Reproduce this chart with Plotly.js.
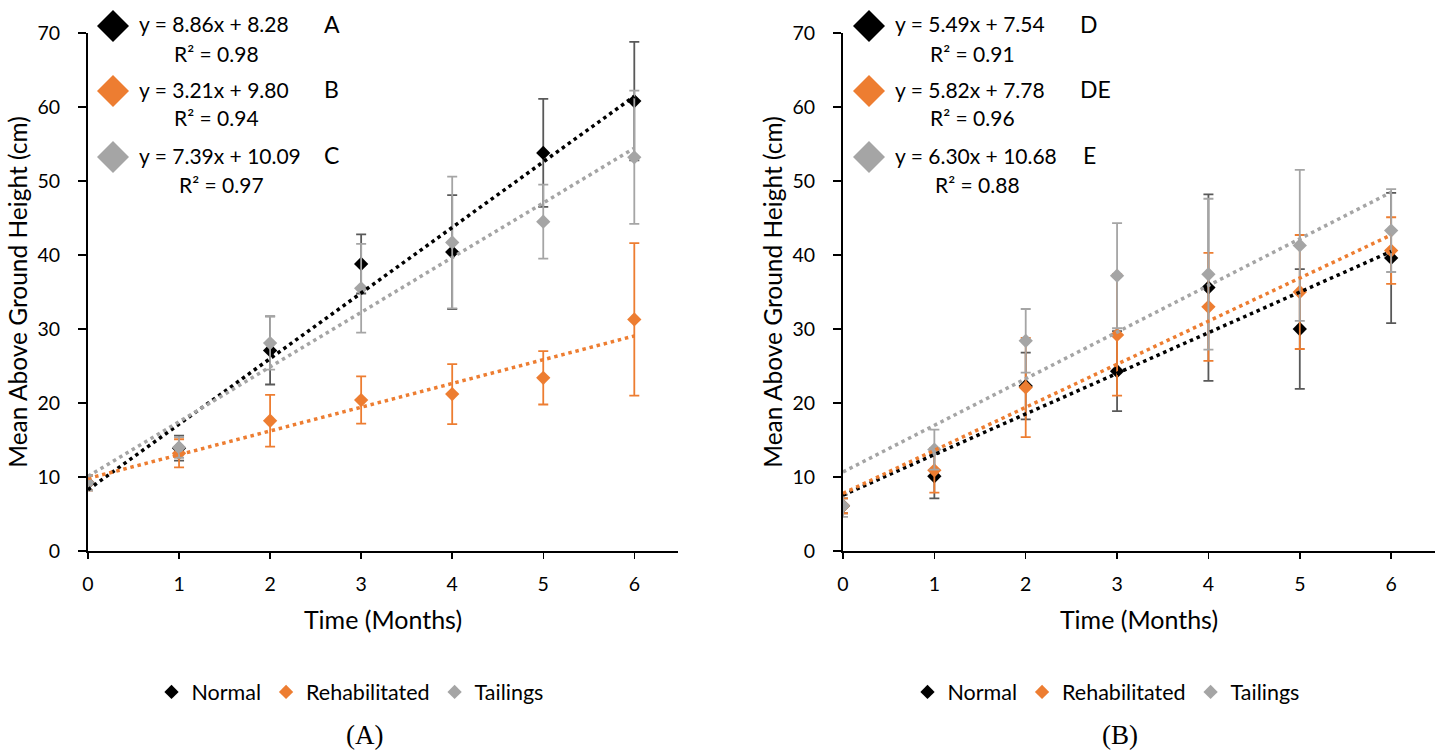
<!DOCTYPE html>
<html>
<head>
<meta charset="utf-8">
<script src="https://cdn.plot.ly/plotly-3.0.1.min.js"></script>
<style>html,body{margin:0;padding:0;background:#fff;}#chart{width:1442px;height:753px;}</style>
</head>
<body>
<div id="chart"></div>
<script>
// ---- data ----
const months = [0, 1, 2, 3, 4, 5, 6];
const seriesNames = ['Normal', 'Rehabilitated', 'Tailings'];

// Panel A
const A_normal = [9.2, 13.9, 27.1, 38.8, 40.4, 53.8, 60.8];
const A_normalErr = [1.0, 1.7, 4.6, 4.0, 7.7, 7.3, 8.0];
const A_rehab = [9.2, 13.2, 17.6, 20.4, 21.2, 23.4, 31.3];
const A_rehabErr = [1.0, 1.9, 3.5, 3.2, 4.05, 3.6, 10.3];
const A_tail = [9.2, 14.0, 28.1, 35.5, 41.7, 44.5, 53.2];
const A_tailErr = [1.0, 1.4, 3.6, 6.0, 8.9, 5.0, 9.0];
const A_slopes = [8.86, 3.21, 7.39];
const A_intercepts = [8.28, 9.80, 10.09];
const A_r2 = [0.98, 0.94, 0.97];
const A_letters = ['A', 'B', 'C'];

// Panel B
const B_normal = [6.1, 10.1, 22.3, 24.3, 35.6, 30.0, 39.6];
const B_normalErr = [1.0, 3.0, 4.5, 5.4, 12.6, 8.1, 8.8];
const B_rehab = [6.1, 10.9, 22.1, 29.2, 33.0, 35.0, 40.6];
const B_rehabErr = [1.0, 3.0, 6.7, 8.2, 7.3, 7.7, 4.5];
const B_tail = [6.1, 13.7, 28.4, 37.2, 37.4, 41.3, 43.3];
const B_tailErr = [1.5, 2.7, 4.3, 7.1, 10.2, 10.2, 5.6];
const B_slopes = [5.49, 5.82, 6.30];
const B_intercepts = [7.54, 7.78, 10.68];
const B_r2 = [0.91, 0.96, 0.88];
const B_letters = ['D', 'DE', 'E'];

const yTicks = [0, 10, 20, 30, 40, 50, 60, 70];
const panelLabels = ['(A)', '(B)'];

// ---- styles ----
const markerColors = ['#000000', '#ED7D31', '#A5A5A5'];
const errColors = ['#595959', '#ED7D31', '#A5A5A5'];
const FONT = 'Lato, "Open Sans", sans-serif';
const W = 1442, H = 753;
const px = x => x / W;
const py = y => 1 - y / H;

function panelTraces(vals, errs, slopes, intercepts, xa, ya, legendId) {
  const out = [];
  vals.forEach((v, i) => {
    out.push({
      type: 'scatter', mode: 'markers', x: months, y: v, name: seriesNames[i],
      xaxis: xa, yaxis: ya, legend: legendId,
      marker: {symbol: 'diamond', size: 11, color: markerColors[i]},
      error_y: {type: 'data', array: errs[i], visible: true, color: errColors[i], thickness: 1.8, width: 5},
      showlegend: true, hoverinfo: 'x+y'
    });
  });
  slopes.forEach((s, i) => {
    const tx = [months[0], months[months.length - 1]];
    out.push({
      type: 'scatter', mode: 'lines', x: tx, y: tx.map(t => intercepts[i] + s * t),
      xaxis: xa, yaxis: ya, showlegend: false, hoverinfo: 'skip',
      line: {color: markerColors[i], width: 3.5, dash: '3.5px,3.8px'}
    });
  });
  return out;
}

const traces = [].concat(
  panelTraces([A_normal, A_rehab, A_tail], [A_normalErr, A_rehabErr, A_tailErr], A_slopes, A_intercepts, 'x', 'y', 'legend'),
  panelTraces([B_normal, B_rehab, B_tail], [B_normalErr, B_rehabErr, B_tailErr], B_slopes, B_intercepts, 'x2', 'y2', 'legend2')
);

const yDom = [py(551), py(33)];
function xAxis(dom, anchor) {
  return {
    domain: dom, anchor: anchor, range: [0, 6.48], tickvals: months, ticktext: months.map(String),
    showline: true, linecolor: '#000', linewidth: 2, ticks: 'outside', ticklen: 6, tickwidth: 1.5, tickcolor: '#000',
    showgrid: false, zeroline: false, ticklabelstandoff: 9,
    tickfont: {family: FONT, size: 19.5, color: '#000'},
    title: {text: 'Time (Months)', font: {family: FONT, size: 25, color: '#000'}, standoff: 17}
  };
}
function yAxis(anchor) {
  return {
    domain: yDom, anchor: anchor, range: [0, 70], tickvals: yTicks,
    showline: true, linecolor: '#000', linewidth: 2, ticks: 'outside', ticklen: 8, tickwidth: 1.5, tickcolor: '#000',
    showgrid: false, zeroline: false, ticklabelstandoff: 14,
    tickfont: {family: FONT, size: 19.5, color: '#000'},
    title: {text: 'Mean Above Ground Height (cm)', font: {family: FONT, size: 24.5, color: '#000'}, standoff: 3}
  };
}

const annotations = [];
const shapes = [];
function eqBlock(dx, slopes, intercepts, r2, letters, letterX, r2X) {
  const ys = [26, 91, 157];
  ys.forEach((yc, i) => {
    shapes.push({
      type: 'path', xref: 'paper', yref: 'paper', xsizemode: 'pixel', ysizemode: 'pixel',
      xanchor: px(113 + dx), yanchor: py(yc), path: 'M0,16 L16,0 L0,-16 L-16,0 Z',
      fillcolor: markerColors[i], line: {width: 0}
    });
    annotations.push({
      xref: 'paper', yref: 'paper', x: px(137 + dx), y: py(yc - 2), xanchor: 'left', yanchor: 'middle', showarrow: false,
      text: 'y = ' + slopes[i].toFixed(2) + 'x + ' + intercepts[i].toFixed(2),
      font: {family: FONT, size: 21, color: '#000'}
    });
    annotations.push({
      xref: 'paper', yref: 'paper', x: px(r2X[i] + dx), y: py(yc + 27), xanchor: 'left', yanchor: 'middle', showarrow: false,
      text: 'R² = ' + r2[i].toFixed(2),
      font: {family: FONT, size: 21, color: '#000'}
    });
    annotations.push({
      xref: 'paper', yref: 'paper', x: px(letterX[i]), y: py(yc - 2), xanchor: 'left', yanchor: 'middle', showarrow: false,
      text: letters[i], font: {family: FONT, size: 23, color: '#000'}
    });
  });
}
eqBlock(0, A_slopes, A_intercepts, A_r2, A_letters, [322, 322, 322], [172, 172, 177]);
eqBlock(756, B_slopes, B_intercepts, B_r2, B_letters, [1078, 1078, 1081], [172, 172, 177]);

[[364, panelLabels[0]], [1120, panelLabels[1]]].forEach(([x, t]) => {
  annotations.push({
    xref: 'paper', yref: 'paper', x: px(x), y: py(735), xanchor: 'center', yanchor: 'middle', showarrow: false,
    text: t, font: {family: '"Liberation Serif", "Times New Roman", serif', size: 27, color: '#000'}
  });
});

const legendBase = {
  orientation: 'h', xanchor: 'center', yanchor: 'middle', y: py(692),
  font: {family: FONT, size: 21.5, color: '#000'}, bgcolor: 'rgba(0,0,0,0)', itemwidth: 30, tracegroupgap: 0
};

const layout = {
  width: W, height: H, margin: {l: 0, r: 0, t: 0, b: 0},
  paper_bgcolor: '#fff', plot_bgcolor: '#fff',
  font: {family: FONT, color: '#000'},
  xaxis: xAxis([px(88), px(678)], 'y'),
  yaxis: yAxis('x'),
  xaxis2: xAxis([px(843), px(1435)], 'y2'),
  yaxis2: yAxis('x2'),
  legend: Object.assign({}, legendBase, {x: px(350)}),
  legend2: Object.assign({}, legendBase, {x: px(1106)}),
  annotations: annotations, shapes: shapes
};

Plotly.newPlot('chart', traces, layout, {displayModeBar: false, staticPlot: true});
</script>
</body>
</html>
